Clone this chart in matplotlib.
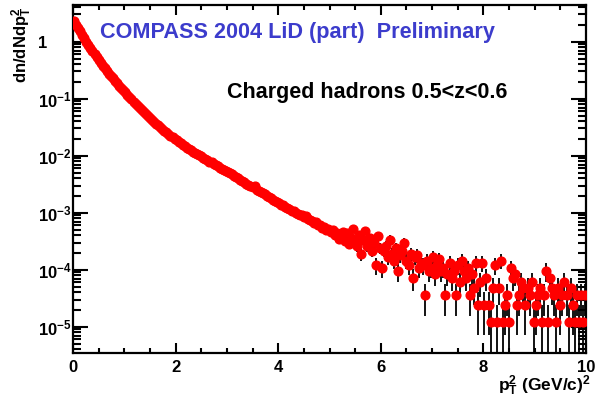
import numpy as np
import matplotlib
matplotlib.use("Agg")
import matplotlib.pyplot as plt
from matplotlib.ticker import MultipleLocator, LogLocator, NullFormatter

plt.rcParams['font.family'] = ['Liberation Sans', 'DejaVu Sans']
plt.rcParams['font.weight'] = 'bold'
plt.rcParams['mathtext.fontset'] = 'custom'
plt.rcParams['mathtext.rm'] = 'Liberation Sans:bold'
plt.rcParams['mathtext.it'] = 'Liberation Sans:bold'
plt.rcParams['mathtext.bf'] = 'Liberation Sans:bold'
plt.rcParams['mathtext.sf'] = 'Liberation Sans:bold'

# histogram binning in pT^2 (GeV/c)^2
BIN_WIDTH = 0.04
N_BINS = 250

# dn/dNdpT^2 for the dense part (bins 0..129)
head_values = [
    2.29, 2.00, 1.74, 1.51, 1.32, 1.15, 0.98, 0.87, 0.76, 0.68,
    0.60, 0.54, 0.48, 0.43, 0.38, 0.34, 0.31, 0.275, 0.25, 0.23,
    0.204, 0.186, 0.170, 0.155, 0.141, 0.129, 0.117, 0.107, 0.098, 0.089,
    0.081, 0.074, 0.068, 0.063, 0.058, 0.054, 0.049, 0.046, 0.043, 0.039,
    0.036, 0.034, 0.032, 0.0295, 0.0275, 0.0257, 0.024, 0.0224, 0.0209, 0.0195,
    0.0186, 0.0174, 0.0166, 0.0155, 0.0148, 0.0138, 0.0132, 0.0126, 0.0117, 0.0112,
    0.0107, 0.0102, 0.0098, 0.0091, 0.0087, 0.0083, 0.0079, 0.0076, 0.0072, 0.0069,
    0.0066, 0.0062, 0.0059, 0.0056, 0.0054, 0.0051, 0.0049, 0.0047, 0.0044, 0.0042,
    0.0040, 0.0038, 0.0036, 0.00347, 0.00324, 0.0031, 0.00295, 0.0028, 0.00295, 0.0025,
    0.0024, 0.0023, 0.0022, 0.0021, 0.00195, 0.00186, 0.00178, 0.0017, 0.00162, 0.00155,
    0.00148, 0.00138, 0.00135, 0.00126, 0.00123, 0.00115, 0.00105, 0.00107, 0.00100, 0.00095,
    0.00093, 0.00091, 0.00085, 0.00087, 0.00078, 0.00076, 0.00072, 0.00066, 0.00068, 0.0006,
    0.0006, 0.00054, 0.00056, 0.00049, 0.00052, 0.00045, 0.0005, 0.0004, 0.00044, 0.00035,
]

# sparse tail (bins 130..249) in entries; one entry = COUNT_UNIT
COUNT_UNIT = 1.2e-5
tail_counts = [
    33, 38, 27, 36, 24, 30, 44, 26, 22, 34,
    16, 28, 40, 22, 30, 18, 25, 10, 32, 20,
    9, 18, 22, 14, 28, 16, 12, 20, 8, 15,
    18, 25, 12, 10, 16, 6, 14, 15, 9, 11,
    10, 3, 12, 8, 9, 14, 7, 10, 13, 8,
    9, 3, 7, 11, 6, 8, 3, 10, 5, 12,
    8, 6, 9, 3, 7, 4, 11, 2, 5, 11,
    2, 6, 2, 1, 4, 10, 1, 4, 12, 1,
    2, 3, 1, 9, 6, 7, 2, 3, 5, 4,
    2, 4, 3, 5, 1, 2, 3, 4, 1, 3,
    8, 1, 6, 4, 3, 1, 4, 2, 3, 5,
    3, 1, 4, 2, 1, 3, 1, 3, 1, 3,
]

y_ticks = [1e-5, 1e-4, 1e-3, 1e-2, 1e-1, 1]
y_tick_labels = ['$10^{-5}$', '$10^{-4}$', '$10^{-3}$', '$10^{-2}$', '$10^{-1}$', '1']
x_ticks = [0, 2, 4, 6, 8, 10]

x = (np.arange(N_BINS) + 0.5) * BIN_WIDTH
y = np.concatenate([np.array(head_values), np.array(tail_counts) * COUNT_UNIT])
err = np.sqrt(y * COUNT_UNIT)

fig = plt.figure(figsize=(5.95, 3.97), dpi=100)
ax = fig.add_axes([73 / 595, 1 - 353 / 397, 513 / 595, 348 / 397])
ax.set_yscale('log')

ax.vlines(x, np.maximum(y - err, 1e-9), y + err, color='black', lw=1.3, zorder=2)
ax.plot(x, y, 'o', color='#ff0000', ms=6.3, mec='#ff0000', zorder=3)

ax.set_xlim(0, 10)
ax.set_ylim(3.46e-6, 4.4)

ax.set_xticks(x_ticks)
ax.set_xticklabels([str(t) for t in x_ticks])
ax.xaxis.set_minor_locator(MultipleLocator(0.5))
ax.set_yticks(y_ticks)
ax.set_yticklabels(y_tick_labels, ha='left')
ax.yaxis.set_minor_locator(LogLocator(base=10, subs=np.arange(2, 10), numticks=20))
ax.yaxis.set_minor_formatter(NullFormatter())

ax.tick_params(which='both', direction='in', top=True, right=True, width=1.5,
               labelsize=12)
ax.tick_params(axis='x', which='major', length=7, pad=5)
ax.tick_params(axis='x', which='minor', length=3.5)
ax.tick_params(axis='y', which='major', length=11, pad=25)
ax.tick_params(axis='y', which='minor', length=6)
for sp in ax.spines.values():
    sp.set_linewidth(1.6)

fig.text(100 / 595, 1 - 38 / 397, 'COMPASS 2004 LiD (part)  Preliminary',
         color='#3c3ccc', fontsize=15.6, fontweight='bold', va='baseline')
fig.text(227 / 595, 1 - 98 / 397, 'Charged hadrons 0.5<z<0.6',
         color='black', fontsize=15.5, fontweight='bold', va='baseline')
fig.text(22 / 595, 1 - 6 / 397, r'dn/dNdp$_T^2$', rotation=90,
         fontsize=12, ha='center', va='top')
fig.text(591 / 595, 1 - 386 / 397, r'p$_T^2$ (GeV/c)$^2$',
         fontsize=12.5, ha='right', va='center')

fig.savefig('out.png', dpi=100)
